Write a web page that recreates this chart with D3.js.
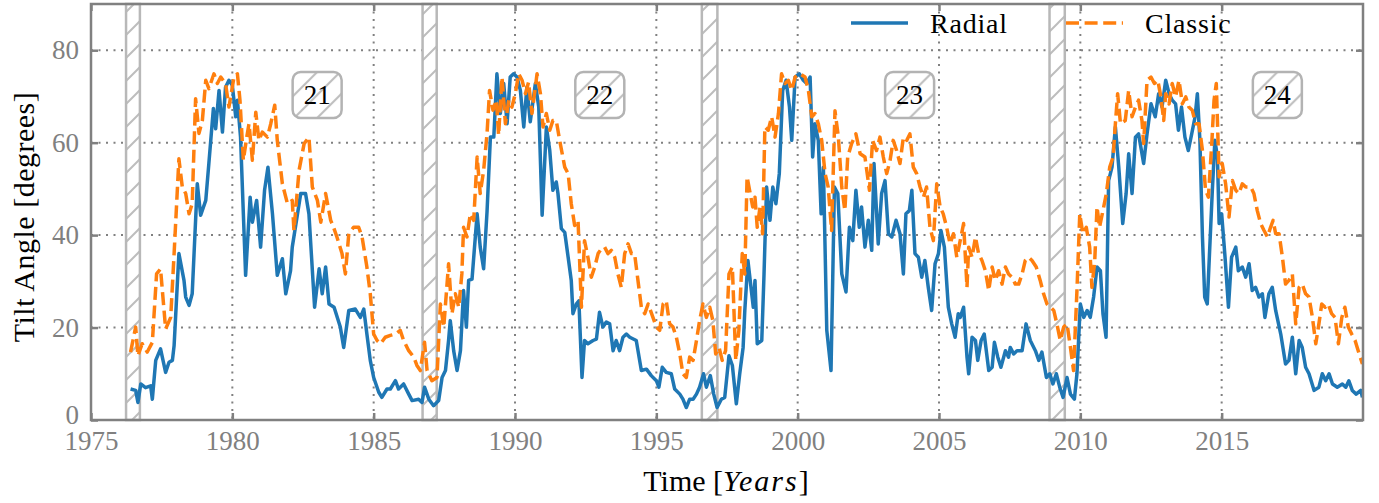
<!DOCTYPE html>
<html>
<head>
<meta charset="utf-8">
<script src="https://cdn.jsdelivr.net/npm/d3@7"></script>
<style>
  body { margin: 0; background: #fff; }
  svg { display: block; font-family: "Liberation Serif", "DejaVu Serif", serif; }
</style>
</head>
<body>
<svg id="chart"></svg>
<script>
const width = 1379;
const height = 503;
const margin = {top: 4, right: 16, bottom: 83, left: 91};
const serif = "'Liberation Serif', 'DejaVu Serif', serif";

// tick values
const xTicks = [1975, 1980, 1985, 1990, 1995, 2000, 2005, 2010, 2015];
const yTicks = [0, 20, 40, 60, 80];

const seriesNames = ["Radial", "Classic"];
const seriesColors = ["#1f77b4", "#ff7f0e"];

// solar minima bands [start, end]
const minima = [[1976.24, 1976.73], [1986.73, 1987.23], [1996.61, 1997.16], [2008.91, 2009.45]];

// cycle number labels
const cycleLabels = ["21", "22", "23", "24"];
const cycleYears = [1983.0, 1993.0, 2003.96, 2016.97];
const cycleLevel = 70.3;

// [year, tilt angle]
const radial = [
  [1976.40,6.7],[1976.58,6.4],[1976.66,3.8],[1976.76,7.8],[1976.93,7.0],[1977.11,7.4],[1977.17,4.5],[1977.29,12.9],
  [1977.46,15.4],[1977.64,10.3],[1977.76,12.5],[1977.88,12.9],[1977.94,16.1],[1978.11,36.0],[1978.29,30.2],[1978.35,26.6],
  [1978.47,24.8],[1978.58,27.3],[1978.76,51.1],[1978.88,44.3],[1979.06,47.5],[1979.17,55.5],[1979.33,67.4],[1979.41,63.0],
  [1979.53,71.3],[1979.65,62.3],[1979.76,72.0],[1979.88,73.5],[1980.00,72.4],[1980.12,65.6],[1980.18,69.2],[1980.29,61.2],
  [1980.47,31.3],[1980.63,48.2],[1980.71,42.8],[1980.86,47.5],[1981.00,37.4],[1981.14,49.7],[1981.26,54.7],[1981.42,44.6],
  [1981.59,31.3],[1981.77,34.9],[1981.89,27.3],[1982.06,32.3],[1982.12,37.4],[1982.42,49.0],[1982.59,49.0],[1982.71,44.6],
  [1982.91,24.4],[1983.07,32.7],[1983.18,27.3],[1983.30,33.1],[1983.42,25.1],[1983.60,24.4],
  [1983.82,20.1],[1983.94,15.7],[1984.12,23.7],[1984.35,24.0],[1984.53,22.2],[1984.65,24.0],[1984.76,18.6],[1984.88,12.9],
  [1985.00,9.2],[1985.18,6.0],[1985.29,4.9],[1985.47,6.7],[1985.59,6.7],[1985.77,8.5],[1985.88,6.7],[1986.06,7.8],
  [1986.24,5.6],[1986.36,4.2],[1986.59,4.5],[1986.71,3.8],[1986.80,7.1],[1986.95,4.5],[1987.12,3.1],[1987.30,4.2],
  [1987.42,9.2],[1987.54,10.7],[1987.65,17.2],[1987.71,21.5],[1987.83,15.0],[1987.95,10.7],[1988.07,15.0],[1988.18,28.0],
  [1988.28,20.1],[1988.36,30.2],[1988.48,30.5],[1988.66,44.6],[1988.77,37.4],[1988.89,32.7],[1989.01,45.0],[1989.13,61.2],
  [1989.25,61.2],[1989.36,74.9],[1989.48,66.3],[1989.60,72.8],[1989.72,64.1],[1989.83,74.2],[1989.95,74.9],[1990.07,74.2],
  [1990.19,71.3],[1990.31,63.4],[1990.42,72.0],[1990.54,64.5],[1990.72,72.8],[1990.84,67.7],[1990.96,44.3],
  [1991.11,63.4],[1991.23,58.3],[1991.34,49.7],[1991.46,51.5],[1991.52,49.0],[1991.64,41.4],[1991.76,40.6],[1991.88,35.2],
  [1991.99,30.2],[1992.05,23.0],[1992.17,25.1],[1992.26,25.8],[1992.37,9.2],[1992.46,17.2],[1992.58,16.5],[1992.76,17.2],
  [1992.88,17.5],[1992.99,23.3],[1993.11,20.1],[1993.23,21.2],[1993.35,20.8],[1993.47,15.0],[1993.58,17.2],[1993.70,15.0],
  [1993.82,17.9],[1993.94,18.6],[1994.06,17.9],[1994.29,17.2],[1994.47,10.7],[1994.65,11.0],[1994.82,9.6],[1995.00,8.5],
  [1995.09,7.1],[1995.21,11.4],[1995.35,10.3],[1995.53,10.0],[1995.65,6.7],[1995.83,5.6],[1995.94,4.5],[1996.06,2.7],
  [1996.18,4.5],[1996.30,4.5],[1996.42,5.6],[1996.53,7.1],[1996.67,10.0],[1996.77,7.1],[1996.91,9.6],[1997.03,5.6],
  [1997.15,2.7],[1997.30,4.5],[1997.42,4.9],[1997.57,13.9],[1997.69,11.8],[1997.83,3.5],[1997.95,10.0],[1998.07,15.7],
  [1998.13,23.7],[1998.24,34.5],
  [1998.43,24.4],[1998.49,30.2],[1998.57,16.5],[1998.73,17.2],[1998.81,31.6],[1998.90,50.4],[1999.02,43.2],[1999.12,50.4],
  [1999.23,46.8],[1999.35,53.3],[1999.47,71.3],[1999.59,73.5],[1999.71,67.7],[1999.79,60.5],[1999.91,74.2],[2000.06,74.9],
  [2000.20,73.5],[2000.32,72.8],[2000.44,74.2],[2000.53,56.9],[2000.61,64.1],[2000.73,60.5],[2000.83,44.6],[2000.91,54.7],
  [2001.03,19.4],[2001.18,10.7],[2001.30,50.4],[2001.42,49.0],[2001.56,31.6],[2001.71,27.7],[2001.83,41.7],[2001.95,38.8],
  [2002.06,49.7],[2002.18,41.7],[2002.26,46.1],[2002.38,37.4],[2002.50,43.2],[2002.62,36.7],[2002.70,55.5],[2002.85,38.1],
  [2002.97,49.0],[2003.09,51.8],[2003.21,40.3],[2003.33,39.6],[2003.48,43.2],[2003.62,40.3],[2003.74,31.6],[2003.83,44.6],
  [2003.95,45.3],[2004.04,49.7],[2004.15,36.0],[2004.27,35.2],[2004.39,30.9],[2004.50,34.5],[2004.62,28.7],[2004.74,23.7],
  [2004.86,33.8],[2004.98,36.0],[2005.07,41.0],[2005.19,37.4],[2005.33,24.4],[2005.45,20.8],[2005.57,17.9],[2005.68,23.0],
  [2005.75,22.2],[2005.87,24.4],[2005.99,13.6],[2006.05,10.0],[2006.17,17.9],[2006.29,17.2],[2006.37,12.9],[2006.49,17.2],
  [2006.60,18.6],[2006.76,10.7],[2006.88,11.4],[2006.96,16.8],[2007.08,13.6],[2007.19,11.4],[2007.35,15.0],[2007.46,13.6],
  [2007.52,15.7],[2007.64,14.3],[2007.76,15.0],[2007.94,15.0],[2008.08,20.8],[2008.23,17.2],[2008.41,15.0],[2008.53,12.9],
  [2008.64,14.7],[2008.80,9.2],[2008.92,10.0],[2009.03,7.8],[2009.15,10.0],[2009.27,7.1],[2009.39,4.9],[2009.53,9.2],
  [2009.65,5.6],[2009.79,4.5],[2009.88,10.0],[2010.00,25.1],[2010.12,22.2],[2010.24,23.7],[2010.35,22.2],[2010.47,26.6],
  [2010.59,33.1],[2010.71,32.3],[2010.80,23.0],[2010.91,17.9],[2011.00,51.8],[2011.12,54.7],[2011.24,63.4],[2011.36,54.7],
  [2011.50,42.5],[2011.62,49.0],[2011.71,57.6],[2011.83,49.0],[2011.95,61.2],[2012.06,61.9],[2012.24,55.5],[2012.36,61.9],
  [2012.50,68.4],[2012.65,65.6],[2012.77,70.6],[2012.89,67.7],
  [2013.02,73.5],[2013.14,70.6],[2013.25,69.2],[2013.37,68.4],[2013.47,62.7],[2013.58,67.7],[2013.70,61.2],[2013.82,58.3],
  [2013.94,61.9],[2014.06,65.6],[2014.14,70.6],[2014.23,60.5],[2014.32,39.6],[2014.40,26.6],[2014.49,25.1],[2014.59,38.8],
  [2014.67,49.7],[2014.76,60.5],[2014.85,56.9],[2014.91,42.5],[2015.00,44.6],[2015.12,35.2],[2015.24,24.4],[2015.35,35.2],
  [2015.50,37.4],[2015.59,32.3],[2015.73,33.1],[2015.85,30.9],[2015.97,33.8],[2016.08,28.0],[2016.20,28.7],[2016.32,26.6],
  [2016.44,27.3],[2016.53,22.2],[2016.67,27.3],[2016.79,28.7],[2016.91,23.7],[2017.09,18.6],[2017.26,12.1],[2017.38,12.9],
  [2017.50,17.9],[2017.62,10.0],[2017.74,17.2],[2017.85,15.7],[2017.97,11.4],[2018.09,10.0],[2018.27,6.4],[2018.44,7.1],
  [2018.56,10.0],[2018.68,8.5],[2018.80,10.0],[2018.92,7.8],[2019.09,7.1],[2019.27,7.8],[2019.39,7.1],[2019.50,8.5],
  [2019.62,6.4],[2019.76,5.6],[2019.92,6.4],[2019.98,4.9]
];

const classic = [
  [1976.40,14.7],[1976.58,20.1],[1976.66,13.9],[1976.81,16.5],[1976.99,14.7],[1977.17,16.8],[1977.32,31.6],[1977.46,32.7],
  [1977.64,19.7],[1977.82,22.2],[1977.94,36.0],[1978.11,56.5],[1978.23,50.4],[1978.35,49.0],[1978.47,44.6],[1978.58,46.8],
  [1978.70,69.5],[1978.82,62.0],[1978.94,64.8],[1979.06,73.5],[1979.17,71.7],[1979.35,74.9],[1979.47,72.8],[1979.59,74.2],
  [1979.76,72.8],[1979.88,67.7],[1980.06,74.2],[1980.18,74.9],[1980.27,69.2],[1980.39,56.2],[1980.51,61.2],[1980.59,64.1],
  [1980.71,56.2],[1980.83,66.6],[1980.94,60.5],[1981.06,62.3],[1981.24,61.2],[1981.36,64.1],[1981.50,68.1],[1981.59,60.5],
  [1981.77,51.1],[1981.95,46.8],[1982.12,47.5],[1982.18,41.0],[1982.36,54.0],[1982.54,59.8],[1982.71,61.2],[1982.83,50.4],
  [1983.01,47.5],[1983.13,42.8],[1983.30,49.0],[1983.48,43.2],
  [1983.58,41.7],[1983.70,39.6],[1983.88,36.0],[1984.00,31.6],[1984.12,40.3],[1984.29,41.7],[1984.47,41.7],[1984.59,39.6],
  [1984.76,33.1],[1984.88,27.3],[1985.00,18.6],[1985.12,17.2],[1985.24,16.5],[1985.41,17.9],[1985.59,18.3],[1985.77,18.6],
  [1985.94,19.4],[1986.06,17.2],[1986.24,15.0],[1986.42,13.6],[1986.53,11.8],[1986.65,10.7],[1986.80,16.8],[1986.89,10.7],
  [1987.06,8.5],[1987.24,9.2],[1987.36,25.1],[1987.48,20.1],[1987.65,33.8],[1987.77,23.0],[1987.89,27.3],[1988.01,24.4],
  [1988.12,31.6],[1988.18,41.7],[1988.30,39.6],[1988.42,44.6],[1988.54,43.2],[1988.66,56.9],[1988.77,49.0],[1988.89,54.0],
  [1989.01,61.9],[1989.10,71.3],[1989.22,67.0],[1989.34,69.2],[1989.42,61.6],[1989.54,74.2],[1989.66,64.1],[1989.78,69.2],
  [1989.89,67.7],[1990.01,70.6],[1990.13,74.9],[1990.25,73.5],[1990.37,70.6],[1990.48,73.1],[1990.60,66.3],[1990.78,74.9],
  [1990.90,70.6],
  [1990.99,63.4],[1991.11,66.3],[1991.23,62.7],[1991.34,64.8],[1991.46,64.8],[1991.58,60.5],[1991.76,54.7],[1991.88,53.3],
  [1991.99,46.8],[1992.11,42.1],[1992.23,43.2],[1992.35,24.4],[1992.46,38.8],[1992.58,35.2],[1992.70,30.9],[1992.82,33.1],
  [1992.94,36.0],[1993.05,37.0],[1993.17,37.4],[1993.29,36.0],[1993.41,36.7],[1993.53,35.2],[1993.64,31.6],[1993.76,28.7],
  [1993.88,36.0],[1994.00,38.1],[1994.12,36.0],[1994.23,36.0],[1994.35,30.2],[1994.47,24.4],[1994.59,23.0],[1994.71,25.1],
  [1994.88,22.2],[1995.00,20.1],[1995.12,19.4],[1995.24,25.1],[1995.35,25.8],[1995.47,20.8],[1995.59,20.1],[1995.71,17.9],
  [1995.83,14.3],[1995.94,10.0],[1996.06,9.2],[1996.18,13.6],[1996.30,12.9],[1996.42,17.2],[1996.53,21.5],[1996.65,25.1],
  [1996.77,22.2],[1996.89,24.4],[1997.00,21.5],[1997.10,14.3],[1997.22,15.7],[1997.33,12.9],[1997.45,15.0],[1997.57,31.6],
  [1997.69,33.1],[1997.81,12.9],[1997.92,19.4],[1998.04,36.0],[1998.13,31.6],[1998.21,52.6],
  [1998.41,46.1],[1998.49,48.2],[1998.57,41.7],[1998.67,46.1],[1998.76,40.3],[1998.84,63.4],[1998.96,62.7],[1999.08,65.6],
  [1999.20,61.2],[1999.32,66.3],[1999.43,74.9],[1999.55,72.8],[1999.67,73.5],[1999.79,71.3],[1999.91,74.2],[2000.08,74.9],
  [2000.26,74.2],[2000.38,71.3],[2000.50,65.6],[2000.61,66.3],[2000.73,64.1],[2000.85,60.5],[2000.97,53.3],[2001.08,50.4],
  [2001.20,41.0],[2001.32,66.9],[2001.44,61.2],[2001.56,50.4],[2001.67,45.3],[2001.77,56.9],[2001.91,59.8],[2002.06,61.9],
  [2002.21,57.6],[2002.38,56.9],[2002.54,49.7],[2002.65,60.5],[2002.79,58.3],[2002.91,61.2],[2003.03,56.9],[2003.15,53.3],
  [2003.27,56.2],[2003.38,60.5],[2003.50,58.3],[2003.62,55.5],[2003.74,61.2],[2003.86,60.5],[2003.97,61.9],[2004.09,54.7],
  [2004.21,53.3],[2004.33,50.4],[2004.45,48.2],[2004.56,50.4],[2004.68,41.7],[2004.80,38.8],[2004.92,51.1],[2005.04,46.1],
  [2005.15,44.6],[2005.27,41.7],[2005.39,38.1],[2005.51,40.3],[2005.63,35.2],
  [2005.75,38.8],[2005.87,42.5],[2005.99,28.7],[2006.05,37.4],[2006.17,35.2],[2006.29,39.6],[2006.40,36.0],[2006.52,34.5],
  [2006.64,32.3],[2006.76,28.0],[2006.88,33.1],[2006.99,30.2],[2007.11,32.3],[2007.23,29.4],[2007.35,33.1],[2007.46,31.6],
  [2007.58,30.9],[2007.70,29.4],[2007.82,29.4],[2007.94,31.6],[2008.05,34.5],[2008.17,35.2],[2008.29,34.5],[2008.44,33.1],
  [2008.58,30.2],[2008.70,27.3],[2008.82,25.1],[2008.94,24.4],[2009.06,23.7],[2009.17,20.8],[2009.29,17.2],[2009.41,20.1],
  [2009.53,20.8],[2009.65,15.7],[2009.76,10.7],[2009.88,28.0],[2009.98,44.6],[2010.09,40.3],[2010.21,41.7],[2010.33,37.4],
  [2010.41,28.7],[2010.51,34.5],[2010.59,46.1],[2010.68,41.7],[2010.80,45.3],[2010.92,49.0],[2011.04,54.7],[2011.16,56.9],
  [2011.24,64.1],[2011.32,70.6],[2011.42,64.1],[2011.59,64.8],[2011.71,71.3],[2011.83,65.6],[2011.95,67.7],[2012.06,69.2],
  [2012.18,64.8],[2012.24,59.8],[2012.36,73.5],[2012.50,74.2],[2012.62,72.8],[2012.74,73.5],[2012.85,69.9],[2012.95,64.8],
  [2013.02,70.6],[2013.14,68.4],[2013.25,72.8],[2013.37,69.9],[2013.49,73.5],[2013.61,68.4],[2013.73,69.9],[2013.84,67.7],
  [2013.96,67.0],[2014.08,64.1],[2014.20,64.1],[2014.32,58.3],[2014.43,49.7],[2014.53,48.2],[2014.65,59.8],[2014.73,69.2],
  [2014.81,72.8],[2014.91,52.6],[2015.02,55.5],[2015.14,51.1],[2015.26,43.9],[2015.38,51.8],[2015.50,49.7],[2015.61,49.0],
  [2015.73,51.1],[2015.85,50.4],[2016.03,50.4],[2016.14,49.0],[2016.26,45.3],[2016.38,42.5],[2016.50,41.0],[2016.62,39.6],
  [2016.73,41.7],[2016.82,43.2],[2016.91,40.3],[2017.03,40.3],[2017.15,35.2],[2017.26,29.4],[2017.38,30.2],[2017.50,31.6],
  [2017.62,20.8],[2017.74,28.7],[2017.85,29.4],[2017.97,27.3],[2018.09,26.6],[2018.21,22.2],[2018.33,16.5],[2018.44,20.8],
  [2018.54,25.1],[2018.66,24.4],[2018.77,25.1],[2018.89,23.0],[2019.01,22.2],[2019.13,16.5],[2019.25,22.2],[2019.36,24.4],
  [2019.48,20.1],[2019.60,18.6],[2019.72,17.2],[2019.83,15.0],[2019.98,12.1]
];

const gray = "#808080";
const hatchGray = "#bdbdbd";

const svg = d3.select("#chart")
  .attr("width", width)
  .attr("height", height);

const x = d3.scaleLinear().domain([1975, 2020]).range([margin.left, width - margin.right]);
const y = d3.scaleLinear().domain([0, 90]).range([height - margin.bottom, margin.top]);

// hatch pattern
const defs = svg.append("defs");
const hatch = defs.append("pattern")
  .attr("id", "hatch")
  .attr("patternUnits", "userSpaceOnUse")
  .attr("width", 23)
  .attr("height", 23);
hatch.append("rect").attr("width", 23).attr("height", 23).attr("fill", "#fff");
hatch.append("path")
  .attr("d", "M0,23L23,0M-6,6L6,-6M17,29L29,17")
  .attr("stroke", hatchGray)
  .attr("stroke-width", 2);

defs.append("clipPath").attr("id", "plotclip")
  .append("rect")
  .attr("x", x(1975)).attr("y", y(90))
  .attr("width", x(2020) - x(1975)).attr("height", y(0) - y(90));

// grid
const grid = svg.append("g");
grid.selectAll(".vgrid")
  .data(xTicks.slice(1))
  .enter().append("line")
  .attr("x1", d => x(d)).attr("x2", d => x(d))
  .attr("y1", y(90)).attr("y2", y(0))
  .attr("stroke", gray).attr("stroke-width", 2)
  .attr("stroke-dasharray", "2,5.5");
grid.selectAll(".hgrid")
  .data(yTicks.slice(1))
  .enter().append("line")
  .attr("x1", x(1975)).attr("x2", x(2020))
  .attr("y1", d => y(d)).attr("y2", d => y(d))
  .attr("stroke", gray).attr("stroke-width", 2)
  .attr("stroke-dasharray", "2,5.5");

// minima bands
svg.append("g").selectAll("rect")
  .data(minima)
  .enter().append("rect")
  .attr("x", d => x(d[0]))
  .attr("width", d => x(d[1]) - x(d[0]))
  .attr("y", y(90))
  .attr("height", y(0) - y(90))
  .attr("fill", "url(#hatch)")
  .attr("stroke", "#b8b8b8")
  .attr("stroke-width", 2.5);

// cycle labels
const cyc = svg.append("g").selectAll("g")
  .data(cycleLabels)
  .enter().append("g")
  .attr("transform", (d, i) => `translate(${x(cycleYears[i])},${y(cycleLevel)})`);
cyc.append("rect")
  .attr("x", -24.5).attr("y", -23)
  .attr("width", 49).attr("height", 46)
  .attr("rx", 8)
  .attr("fill", "url(#hatch)")
  .attr("stroke", "#b3b3b3")
  .attr("stroke-width", 2.5);
cyc.append("text")
  .attr("text-anchor", "middle")
  .attr("y", 9)
  .attr("font-family", serif)
  .attr("font-size", 27)
  .attr("fill", "#000")
  .text(d => d);

// lines
const line = d3.line().x(d => x(d[0])).y(d => y(d[1]));
const lines = svg.append("g").attr("clip-path", "url(#plotclip)");
lines.append("path")
  .datum(radial)
  .attr("d", line)
  .attr("fill", "none")
  .attr("stroke", seriesColors[0])
  .attr("stroke-width", 3.5)
  .attr("stroke-linejoin", "round");
lines.append("path")
  .datum(classic)
  .attr("d", line)
  .attr("fill", "none")
  .attr("stroke", seriesColors[1])
  .attr("stroke-width", 3.5)
  .attr("stroke-linejoin", "round")
  .attr("stroke-dasharray", "13,5.6");

// axes
function styleAxis(g) {
  g.select(".domain").remove();
  g.selectAll(".tick line").attr("stroke", gray).attr("stroke-width", 2.5);
  g.selectAll(".tick text")
    .attr("fill", gray)
    .attr("font-size", 27)
    .attr("font-family", serif);
}

svg.append("g")
  .attr("transform", `translate(0,${y(0)})`)
  .call(d3.axisBottom(x).tickValues(xTicks).tickFormat(d3.format("d")).tickSizeInner(-7).tickSizeOuter(0).tickPadding(11))
  .call(styleAxis);
svg.append("g")
  .attr("transform", `translate(0,${y(90)})`)
  .call(d3.axisTop(x).tickValues(xTicks).tickFormat("").tickSizeInner(-7).tickSizeOuter(0))
  .call(styleAxis);
svg.append("g")
  .attr("transform", `translate(${x(1975)},0)`)
  .call(d3.axisLeft(y).tickValues(yTicks).tickFormat(d3.format("d")).tickSizeInner(-7).tickSizeOuter(0).tickPadding(12))
  .call(styleAxis)
  .call(g => g.selectAll(".tick text").filter(d => d === 0).attr("dy", "0.12em"));
svg.append("g")
  .attr("transform", `translate(${x(2020)},0)`)
  .call(d3.axisRight(y).tickValues(yTicks).tickFormat("").tickSizeInner(-7).tickSizeOuter(0))
  .call(styleAxis);

// frame
svg.append("rect")
  .attr("x", x(1975)).attr("y", y(90))
  .attr("width", x(2020) - x(1975)).attr("height", y(0) - y(90))
  .attr("fill", "none")
  .attr("stroke", gray)
  .attr("stroke-width", 2.5);

// axis titles
svg.append("text")
  .attr("x", 726).attr("y", 491)
  .attr("text-anchor", "middle")
  .attr("font-family", serif)
  .attr("font-size", 30)
  .attr("fill", "#000")
  .call(t => {
    t.append("tspan").text("Time [");
    t.append("tspan").attr("font-style", "italic").attr("letter-spacing", 2).text("Years");
    t.append("tspan").text("]");
  });

svg.append("text")
  .attr("transform", "translate(34,217) rotate(-90)")
  .attr("text-anchor", "middle")
  .attr("font-family", serif)
  .attr("font-size", 30)
  .attr("letter-spacing", 0.5)
  .attr("fill", "#000")
  .text("Tilt Angle [degrees]");

// legend
const legend = svg.append("g");
const legendX = [851, 1066];
seriesNames.forEach((name, i) => {
  const g = legend.append("g").attr("transform", `translate(${legendX[i]},23)`);
  g.append("line")
    .attr("x1", 0).attr("x2", 57)
    .attr("stroke", seriesColors[i])
    .attr("stroke-width", 3.5)
    .attr("stroke-dasharray", i === 1 ? "13,5.6" : null);
  g.append("text")
    .attr("x", 79).attr("y", 10)
    .attr("font-family", serif)
    .attr("font-size", 28)
    .attr("letter-spacing", 0.8)
    .attr("fill", "#000")
    .text(name);
});
</script>
</body>
</html>
